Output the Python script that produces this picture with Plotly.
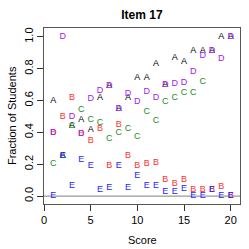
import plotly.graph_objects as go

scores = list(range(1, 21))
A = [0.60, 0.25, 0.44, 0.48, 0.415, 0.615, 0.69, 0.55, 0.62, 0.74,
     0.745, 0.83, 0.70, 0.87, 0.84, 0.91, 0.91, 0.91, 1.0, 1.0]
B = [0.40, 0.50, 0.62, 0.39, 0.35, 0.42, 0.19, 0.445, 0.25, 0.19,
     0.205, 0.21, 0.10, 0.075, 0.10, 0.042, 0.038, 0.042, 0.06, 0.0]
C = [0.20, 0.25, 0.44, 0.54, 0.48, 0.46, 0.36, 0.40, 0.425, 0.37,
     0.53, 0.47, 0.59, 0.62, 0.65, 0.65, 0.715, None, None, None]
D = [0.40, 1.0, 0.50, 0.39, 0.61, 0.66, 0.69, 0.55, 0.645, 0.59,
     0.655, 0.62, 0.70, 0.705, 0.71, 0.78, 0.88, 0.91, 0.86, 1.0]
E = [0.0, 0.25, 0.063, 0.226, 0.19, 0.042, 0.055, 0.19, 0.055, 0.126,
     0.063, 0.063, 0.03, 0.03, 0.045, 0.0, 0.0, 0.042, 0.0, 0.0]

series = [("A", A, "#000000"), ("B", B, "#FF3030"), ("C", C, "#228B22"),
          ("D", D, "#A020F0"), ("E", E, "#1E1EFF")]

FONT = "Liberation Sans, Arial, sans-serif"

fig = go.Figure()

# horizontal reference line at 0
fig.add_shape(type="line", xref="paper", x0=0, x1=1, yref="y", y0=0, y1=0,
              line=dict(color="#999999", width=1.2), layer="below")

for name, vals, col in series:
    fig.add_trace(go.Scatter(
        x=scores, y=vals, mode="text", text=[name] * len(scores),
        textposition="middle center",
        textfont=dict(family=FONT, size=9, color=col),
        showlegend=False, hoverinfo="skip"))

fig.update_layout(
    width=249, height=249,
    margin=dict(l=44, r=9, t=28, b=45, autoexpand=False),
    paper_bgcolor="white", plot_bgcolor="white",
    title=dict(text="<b>Item 17</b>", x=0.57, xanchor="center", y=0.94, yanchor="middle",
               font=dict(family=FONT, size=12, color="black")),
    font=dict(family=FONT, size=11, color="black"),
    annotations=[
        dict(text="Score", xref="paper", yref="paper", x=0.5, y=-0.205,
             xanchor="center", yanchor="middle", showarrow=False,
             font=dict(family=FONT, size=11, color="black")),
        dict(text="Fraction of Students", xref="paper", yref="paper", x=-0.163, y=0.5,
             xanchor="center", yanchor="middle", showarrow=False, textangle=-90,
             font=dict(family=FONT, size=11, color="black")),
    ],
)

fig.update_xaxes(range=[0, 21], tickvals=[0, 5, 10, 15, 20], ticks="outside", ticklen=6,
                 tickcolor="#333333", showline=True, linecolor="#555555", linewidth=1,
                 mirror=True, showgrid=False, zeroline=False, automargin=False,
                 tickfont=dict(size=11))
fig.update_yaxes(range=[-0.05, 1.055], tickvals=[0, 0.2, 0.4, 0.6, 0.8, 1.0],
                 ticktext=["0.0", "0.2", "0.4", "0.6", "0.8", "1.0"],
                 tickangle=-90, ticks="outside", ticklen=6, tickcolor="#333333",
                 showline=True, linecolor="#555555", linewidth=1, mirror=True,
                 showgrid=False, zeroline=False, automargin=False,
                 tickfont=dict(size=11))

fig.write_html("out.html", config={"displayModeBar": False},
               post_script="document.body.style.margin='0';document.body.style.padding='0';")
